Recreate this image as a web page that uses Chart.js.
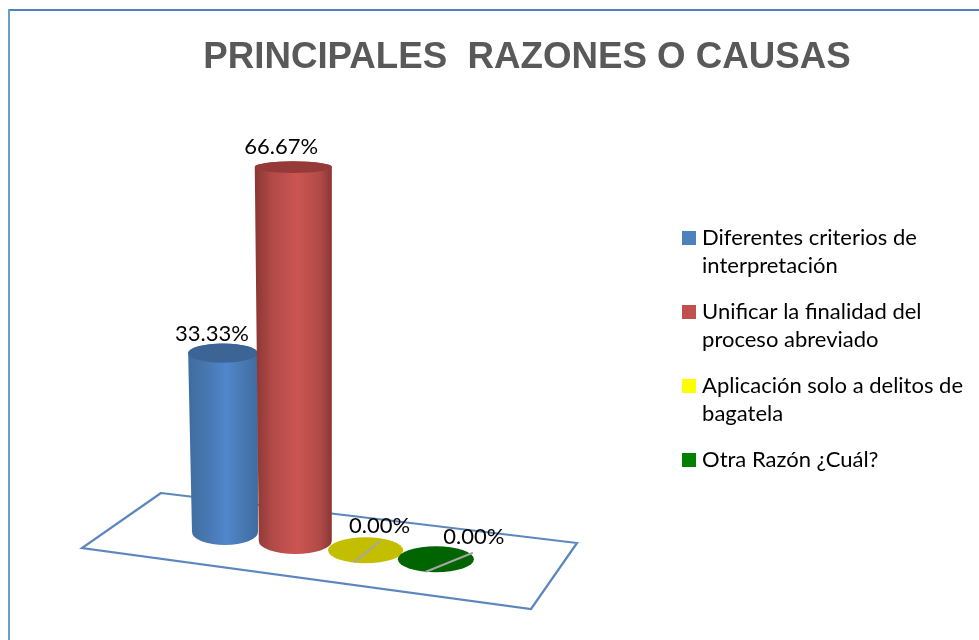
<!DOCTYPE html>
<html>
<head>
<meta charset="utf-8">
<script src="https://cdn.jsdelivr.net/npm/chart.js@4/dist/chart.umd.js"></script>
<style>html,body{margin:0;padding:0;background:#fff}canvas{display:block}</style>
</head>
<body>
<canvas id="c" width="979" height="640"></canvas>
<script>
const titleText = 'PRINCIPALES  RAZONES O CAUSAS';
const categories = ['Diferentes criterios de interpretación','Unificar la finalidad del proceso abreviado','Aplicación solo a delitos de bagatela','Otra Razón ¿Cuál?'];
const legendLines = [['Diferentes criterios de','interpretación'],['Unificar la finalidad del','proceso abreviado'],['Aplicación solo a delitos de','bagatela'],['Otra Razón ¿Cuál?']];
const values = [33.33, 66.67, 0, 0];
const legendColors = ['#4F81BD','#C0504D','#FFFF00','#008000'];
const edgeColors = ['#3F6C9F','#8A3634','#C4BE00','#006400'];
const shoulderColors = ['#4675AD','#B04A47','#C4BE00','#006400'];
const midColors = ['#5086CB','#CB5552','#C4BE00','#006400'];
const capColors = ['#3C6595','#953A38','#C4BE00','#006400'];

// 3D look: how the flat bar geometry is projected onto the tilted floor
const view = {originX:225, originY:532, stepX:70.3, stepY:9.1, unitPx:5.61};
const depthScale = [0.957, 1, 1, 1];
const baseRadius = [33, 36.5, 37.5, 38];
const labelOffset = [[-13,-19],[-14.2,-20],[14,-24],[38,-22]];
const seam = [null,null,[-11.5,12,14.5,-9],[-10,12.5,37,-6.5]];
const floorOffset = [[-64,-39],[352,11],[306,77],[-143,16]];

function swatch(color){
  const s=document.createElement('canvas'); s.width=14; s.height=14;
  const x=s.getContext('2d'); x.fillStyle=color; x.fillRect(0,0,14,14); return s;
}

const cylinders = {
  id:'cylinders',
  beforeDraw(chart){
    const ctx=chart.ctx; ctx.save();
    ctx.fillStyle='#4F81BD'; ctx.fillRect(8,9,971,2);
    ctx.fillStyle='#6E9AD2'; ctx.fillRect(8,9,2,631);
    ctx.restore();
  },
  afterDatasetsDraw(chart){
    const ctx=chart.ctx, area=chart.chartArea;
    const els=chart.getDatasetMeta(0).data;
    const perStep=view.stepX/(els[1].x-els[0].x);
    const perPx=view.unitPx*(chart.scales.y.max-chart.scales.y.min)/area.height;
    ctx.save();
    ctx.strokeStyle='#5B87BE'; ctx.lineWidth=2.2; ctx.lineJoin='miter';
    ctx.beginPath();
    floorOffset.forEach((o,k)=>{const fx=view.originX+o[0],fy=view.originY+o[1]; k?ctx.lineTo(fx,fy):ctx.moveTo(fx,fy);});
    ctx.closePath(); ctx.stroke();
    els.forEach((el,i)=>{
      const bx=view.originX+(el.x-els[0].x)*perStep;
      const by=view.originY+(el.x-els[0].x)*perStep*view.stepY/view.stepX;
      const h=(el.base-el.y)*perPx*depthScale[i];
      const r=baseRadius[i], ry=13;
      el.$top=by-h;
      if(h>0){
        const tx=bx-2, ty=by-h, tr=r*1.056, tRy=13-h*0.019;
        const g=ctx.createLinearGradient(tx-tr,0,tx+tr,0);
        g.addColorStop(0,edgeColors[i]); g.addColorStop(0.22,shoulderColors[i]); g.addColorStop(0.55,midColors[i]); g.addColorStop(0.85,shoulderColors[i]); g.addColorStop(1,edgeColors[i]);
        ctx.fillStyle=g;
        ctx.beginPath();
        ctx.moveTo(tx-tr,ty);
        ctx.lineTo(bx-r,by);
        ctx.ellipse(bx,by,r,ry,0,Math.PI,0,true);
        ctx.lineTo(tx+tr,ty);
        ctx.ellipse(tx,ty,tr,tRy,0,0,Math.PI,true);
        ctx.closePath(); ctx.fill();
        ctx.fillStyle=capColors[i];
        ctx.beginPath(); ctx.ellipse(tx,ty,tr,tRy,0,0,Math.PI*2); ctx.fill();
      } else {
        ctx.fillStyle=capColors[i];
        ctx.beginPath(); ctx.ellipse(bx,by,r,ry,0,0,Math.PI*2); ctx.fill();
        const s=seam[i];
        ctx.strokeStyle='#A6A6A6'; ctx.lineWidth=2;
        ctx.beginPath(); ctx.moveTo(bx+s[0],by+s[1]); ctx.lineTo(bx+s[2],by+s[3]); ctx.stroke();
      }
    });
    ctx.fillStyle='#000'; ctx.font='22px Lato'; ctx.textAlign='center'; ctx.textBaseline='middle';
    els.forEach((el,i)=>{
      const bx=view.originX+(el.x-els[0].x)*perStep;
      ctx.fillText(values[i].toFixed(2)+'%',bx+labelOffset[i][0],el.$top+labelOffset[i][1]);
    });
    ctx.restore();
  }
};

new Chart(document.getElementById('c'),{
  type:'bar',
  data:{labels:categories,datasets:[{data:values,backgroundColor:'rgba(0,0,0,0)',borderWidth:0,categoryPercentage:1,barPercentage:1}]},
  plugins:[cylinders],
  options:{
    responsive:false,animation:false,
    layout:{padding:{left:81,right:6,top:0,bottom:28}},
    scales:{
      x:{display:false},
      y:{display:false,min:0,max:100}
    },
    plugins:{
      tooltip:{enabled:false},
      title:{display:true,text:titleText,color:'#595959',font:{family:'Liberation Sans',size:36.7,weight:'bold'},padding:{top:36,bottom:128}},
      legend:{
        display:true,position:'right',align:'start',fullSize:false,
        labels:{
          usePointStyle:true,boxWidth:5,boxHeight:14,padding:19,color:'#000',
          font:{family:'Lato',size:22,lineHeight:'27.5px'},
          generateLabels(){return legendLines.map((t,i)=>({text:t,pointStyle:swatch(legendColors[i]),fillStyle:legendColors[i],strokeStyle:legendColors[i],lineWidth:0,fontColor:'#000',hidden:false,index:i}));}
        }
      }
    }
  }
});
</script>
</body>
</html>
